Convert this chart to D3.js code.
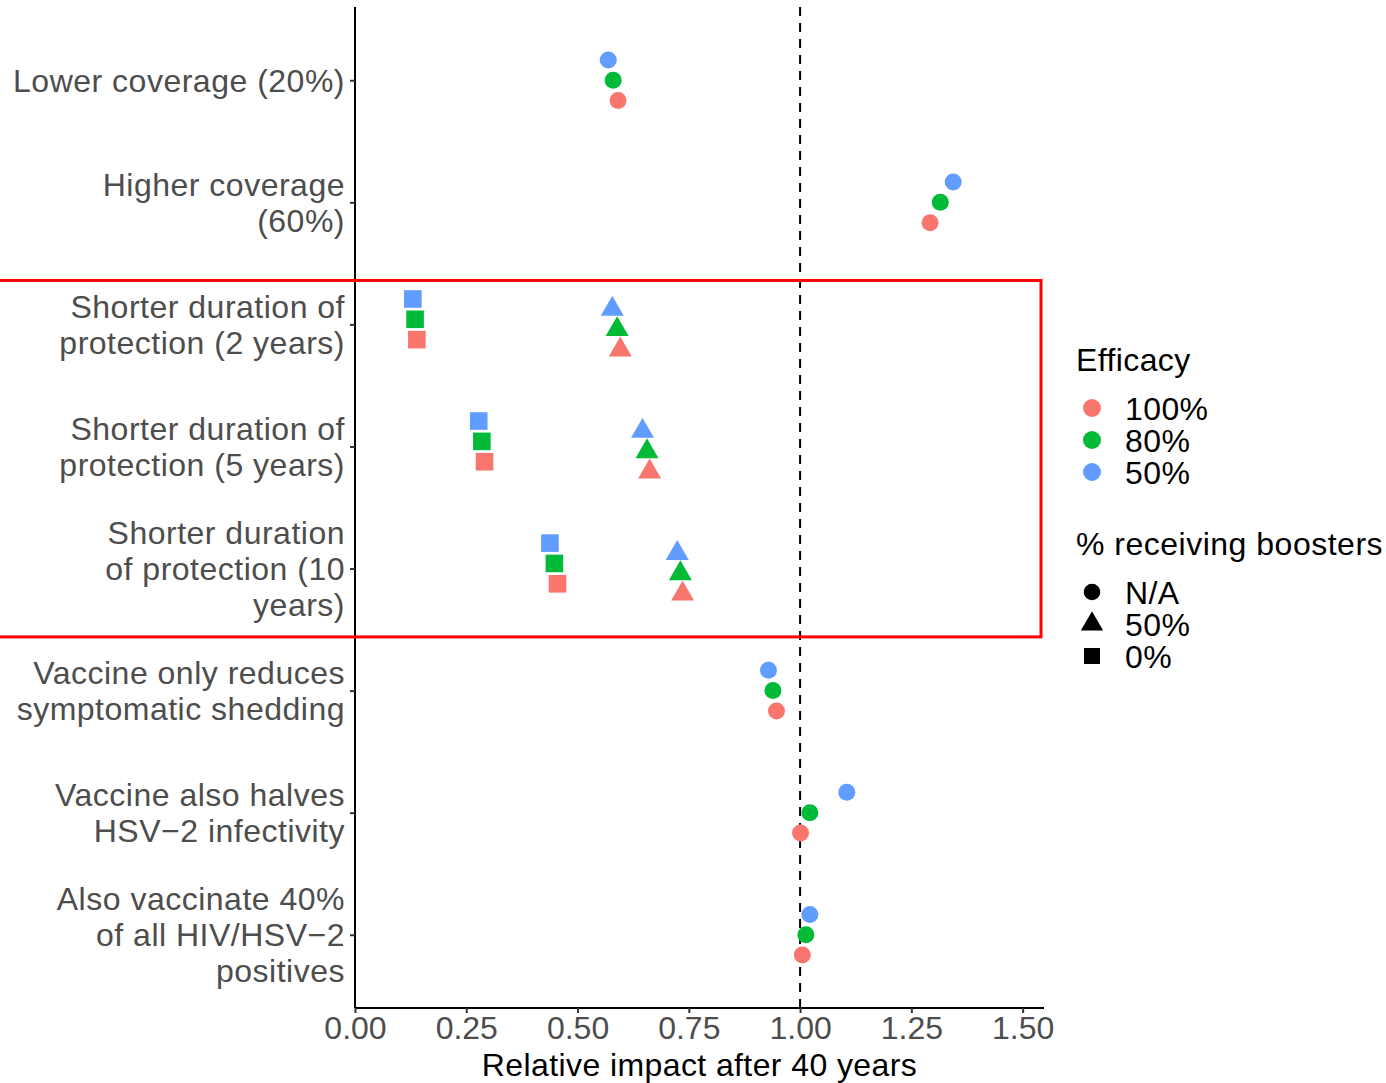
<!DOCTYPE html>
<html><head><meta charset="utf-8">
<script src="https://cdn.jsdelivr.net/npm/d3@7"></script>
<style>
html,body{margin:0;padding:0;background:#fff;}
text{font-family:Arial,"Liberation Sans",sans-serif;}
</style></head>
<body>
<svg id="chart" width="1386" height="1083"></svg>
<script>
const categories = [
  ["Lower coverage (20%)"],
  ["Higher coverage", "(60%)"],
  ["Shorter duration of", "protection (2 years)"],
  ["Shorter duration of", "protection (5 years)"],
  ["Shorter duration", "of protection (10", "years)"],
  ["Vaccine only reduces", "symptomatic shedding"],
  ["Vaccine also halves", "HSV\u22122 infectivity"],
  ["Also vaccinate 40%", "of all HIV/HSV\u22122", "positives"]
];
const efficacyLevels = ["100%", "80%", "50%"];
const efficacyColors = ["#F8766D", "#00BA38", "#619CFF"];
const boosterLevels = ["N/A", "50%", "0%"];
const xTicks = [0, 0.25, 0.5, 0.75, 1.0, 1.25, 1.5];

// one entry per (scenario, booster) combination
const pointCategory = [0, 1, 2, 2, 3, 3, 4, 4, 5, 6, 7];
const pointBooster  = ["N/A", "N/A", "0%", "50%", "0%", "50%", "0%", "50%", "N/A", "N/A", "N/A"];
const impact100 = [0.591, 1.292, 0.139, 0.596, 0.291, 0.662, 0.455, 0.736, 0.947, 1.001, 1.005];
const impact80  = [0.580, 1.315, 0.135, 0.589, 0.285, 0.656, 0.448, 0.731, 0.939, 1.022, 1.013];
const impact50  = [0.569, 1.344, 0.130, 0.578, 0.278, 0.646, 0.438, 0.724, 0.929, 1.105, 1.022];

const impactsByEfficacy = [impact100, impact80, impact50];
const data = [];
impactsByEfficacy.forEach((arr, ei) => {
  arr.forEach((v, i) => data.push({cat: pointCategory[i], booster: pointBooster[i], eff: efficacyLevels[ei], value: v}));
});

const svg = d3.select("#chart");
const pLeft = 355, pRight = 1044, pTop = 7, pBottom = 1008;

const x = d3.scaleLinear().domain([0, 1.548]).range([pLeft, pRight]);
const y = d3.scalePoint().domain(d3.range(categories.length)).range([pTop, pBottom]).padding(0.6);
const step = y.step();
const dodgeWidth = step * 0.5;
const color = d3.scaleOrdinal().domain(efficacyLevels).range(efficacyColors);

// dodge groups per category (top to bottom: 50%, 80%, 100%; within each: 0% then 50% boosters)
const effOrder = ["50%", "80%", "100%"];
const boostOrder = ["0%", "50%", "N/A"];
const dodgeScales = categories.map((_, ci) => {
  const groups = data.filter(d => d.cat === ci)
    .map(d => d.eff + "|" + d.booster);
  const uniq = Array.from(new Set(groups)).sort((a, b) => {
    const [ea, ba] = a.split("|"), [eb, bb] = b.split("|");
    return (effOrder.indexOf(ea) - effOrder.indexOf(eb)) || (boostOrder.indexOf(ba) - boostOrder.indexOf(bb));
  });
  return d3.scaleBand().domain(uniq).range([-dodgeWidth / 2, dodgeWidth / 2]);
});
const dodgeOffset = d => {
  const s = dodgeScales[d.cat];
  return s(d.eff + "|" + d.booster) + s.bandwidth() / 2;
};

// reference line
svg.append("line")
  .attr("x1", x(1)).attr("x2", x(1)).attr("y1", pTop).attr("y2", pBottom)
  .attr("stroke", "#000").attr("stroke-width", 2).attr("stroke-dasharray", "9,7");

// axes
const xAxis = d3.axisBottom(x).tickValues(xTicks).tickFormat(d3.format(".2f")).tickSize(5).tickSizeOuter(0);
const gx = svg.append("g").attr("transform", `translate(0,${pBottom})`).call(xAxis);
gx.select(".domain").attr("stroke", "#000").attr("stroke-width", 2).attr("d", `M${pLeft},0H${pRight}`);
gx.selectAll(".tick line").attr("stroke", "#333").attr("stroke-width", 2);
gx.selectAll(".tick text").attr("fill", "#4d4d4d").attr("font-size", 32).attr("font-family", "Arial, 'Liberation Sans', sans-serif").attr("dy", "0.75em").attr("y", 7);

const yAxis = d3.axisLeft(y).tickSize(5).tickSizeOuter(0).tickFormat("");
const gy = svg.append("g").attr("transform", `translate(${pLeft},0)`).call(yAxis);
gy.select(".domain").attr("stroke", "#000").attr("stroke-width", 2).attr("d", `M0,${pTop}V${pBottom}`);
gy.selectAll(".tick line").attr("stroke", "#333").attr("stroke-width", 2);

// y labels (multi-line)
const lineH = 36;
categories.forEach((lines, i) => {
  const t = svg.append("text")
    .attr("text-anchor", "end").attr("fill", "#4d4d4d")
    .attr("font-size", 32).attr("letter-spacing", "0.5px");
  const n = lines.length;
  lines.forEach((ln, j) => {
    t.append("tspan").attr("x", 345)
      .attr("y", y(i) + (j - (n - 1) / 2) * lineH)
      .attr("dy", "0.36em").text(ln);
  });
});

// x title
svg.append("text").attr("x", (pLeft + pRight) / 2).attr("y", 1076)
  .attr("text-anchor", "middle").attr("font-size", 32).attr("letter-spacing", "0.4px").attr("fill", "#000")
  .text("Relative impact after 40 years");

// points
const triSize = 229;
const g = svg.append("g");
data.forEach(d => {
  const cx = x(d.value), cy = y(d.cat) + dodgeOffset(d);
  const c = color(d.eff);
  if (d.booster === "N/A") {
    g.append("circle").attr("cx", cx).attr("cy", cy).attr("r", 8.5).attr("fill", c);
  } else if (d.booster === "0%") {
    g.append("rect").attr("x", cx - 8.8).attr("y", cy - 8.8).attr("width", 17.6).attr("height", 17.6).attr("fill", c);
  } else {
    g.append("path").attr("transform", `translate(${cx},${cy})`)
      .attr("d", d3.symbol(d3.symbolTriangle, triSize)()).attr("fill", c);
  }
});

// highlight box annotation
svg.append("rect")
  .attr("x", -2).attr("y", y(2) - step * 0.36)
  .attr("width", pRight - 1).attr("height", (y(4) - y(2)) + step * 0.92)
  .attr("fill", "none").attr("stroke", "#ff0000").attr("stroke-width", 3);

// legends
const lg = svg.append("g");
lg.append("text").attr("x", 1076).attr("y", 371).attr("font-size", 32).attr("letter-spacing", "0.4px").text("Efficacy");
efficacyLevels.forEach((e, i) => {
  const cy = 408 + i * 32;
  lg.append("circle").attr("cx", 1092).attr("cy", cy).attr("r", 9).attr("fill", color(e));
  lg.append("text").attr("x", 1125).attr("y", cy).attr("dy", "0.36em").attr("font-size", 32).attr("letter-spacing", "0.4px").text(e);
});
lg.append("text").attr("x", 1076).attr("y", 555).attr("font-size", 32).attr("letter-spacing", "0.5px").text("% receiving boosters");
boosterLevels.forEach((b, i) => {
  const cy = 592 + i * 32;
  if (b === "N/A") lg.append("circle").attr("cx", 1092).attr("cy", cy).attr("r", 8.3).attr("fill", "#000");
  else if (b === "0%") lg.append("rect").attr("x", 1084).attr("y", cy - 8).attr("width", 16).attr("height", 16).attr("fill", "#000");
  else lg.append("path").attr("transform", `translate(1092,${cy})`).attr("d", d3.symbol(d3.symbolTriangle, 215)()).attr("fill", "#000");
  lg.append("text").attr("x", 1125).attr("y", cy).attr("dy", "0.36em").attr("font-size", 32).attr("letter-spacing", "0.4px").text(b);
});
</script>
</body></html>
